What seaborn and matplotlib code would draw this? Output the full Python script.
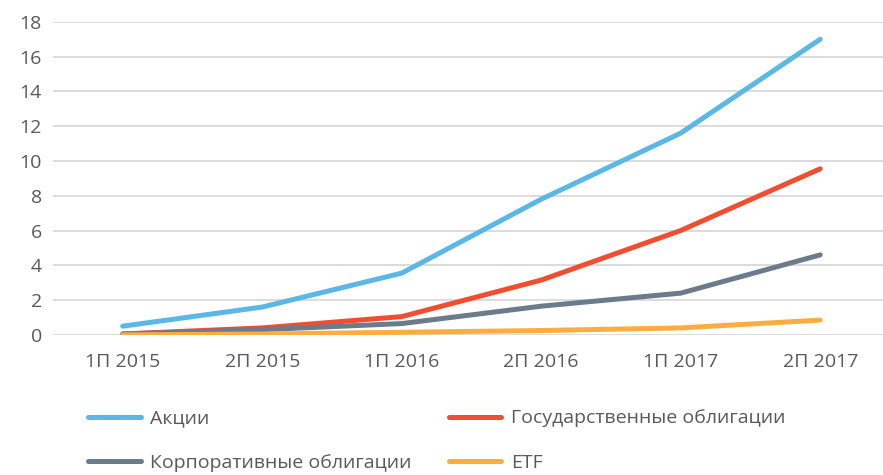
import pandas as pd
import matplotlib.pyplot as plt
import seaborn as sns

periods = ['1П 2015', '2П 2015', '1П 2016', '2П 2016', '1П 2017', '2П 2017']
akcii = [0.5, 1.6, 3.55, 7.8, 11.6, 17.0]
gos_obl = [0.05, 0.4, 1.05, 3.15, 6.0, 9.55]
korp_obl = [0.05, 0.3, 0.65, 1.65, 2.4, 4.6]
etf = [0.0, 0.05, 0.15, 0.25, 0.4, 0.85]

series_names = ['Акции', 'Государственные облигации', 'Корпоративные облигации', 'ETF']
colors = ['#5AB7E6', '#F04E30', '#6B7B8C', '#FBAE3F']

rows = []
for name, vals in zip(series_names, [akcii, gos_obl, korp_obl, etf]):
    for i, (p, v) in enumerate(zip(periods, vals)):
        rows.append({'idx': i, 'period': p, 'value': v, 'series': name})
df = pd.DataFrame(rows)

sns.set_style('white')
plt.rcParams['font.family'] = ['Open Sans', 'DejaVu Sans']

fig = plt.figure(figsize=(8.83, 4.75), dpi=100)
ax = fig.add_axes([0.06, 0.295, 0.94, 0.659])

sns.lineplot(data=df, x='idx', y='value', hue='series', hue_order=series_names,
             palette=colors, linewidth=3.6, ax=ax, legend=False,
             solid_capstyle='round')

ax.set_xlim(-0.5, 5.45)
ax.set_ylim(0, 18)
ax.set_yticks(range(0, 19, 2))
ax.set_xticks(range(len(periods)))
ax.set_xticklabels(periods)
ax.yaxis.grid(True, color='#D9D9D9', linewidth=1.3)
ax.set_axisbelow(True)
for s in ax.spines.values():
    s.set_visible(False)
ax.tick_params(axis='both', length=0, labelsize=14, labelcolor='#595959')
ax.tick_params(axis='x', pad=13)
ax.tick_params(axis='y', pad=8)
ax.set_xlabel('')
ax.set_ylabel('')

# legend is filled column by column, so reorder to read row by row
order = [0, 2, 1, 3]
handles = [plt.Line2D([], [], color=colors[i], linewidth=3.6, solid_capstyle='round') for i in order]
labels = [series_names[i] for i in order]
fig.legend(handles, labels, ncol=2, loc='upper left',
           bbox_to_anchor=(0.08, 0.175), frameon=False, fontsize=14,
           labelcolor='#595959', handlelength=2.7, handletextpad=0.5,
           columnspacing=1.9, labelspacing=1.35)

fig.savefig('out.png', dpi=100)
